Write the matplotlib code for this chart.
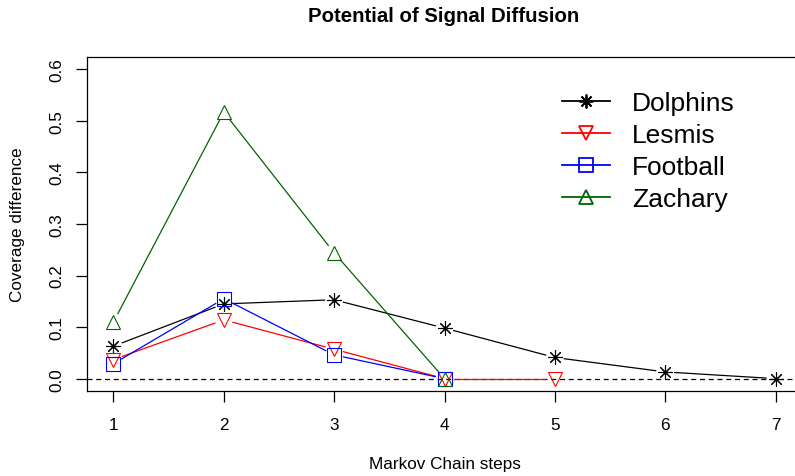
import numpy as np
import matplotlib
matplotlib.use("Agg")
import matplotlib.pyplot as plt

plt.rcParams['font.family'] = ['Liberation Sans', 'DejaVu Sans']

steps = [1, 2, 3, 4, 5, 6, 7]
dolphins = [0.063, 0.145, 0.153, 0.098, 0.041, 0.013, 0.0]
lesmis = [0.037, 0.114, 0.057, 0.0, 0.0]
football = [0.029, 0.155, 0.046, 0.0]
zachary = [0.110, 0.517, 0.244, 0.0]

series = [
    ("Dolphins", dolphins, "black", (8, 2, 0)),
    ("Lesmis", lesmis, "red", "v"),
    ("Football", football, "blue", "s"),
    ("Zachary", zachary, "#006400", "^"),
]

fig = plt.figure(figsize=(7.95, 4.77), dpi=100)
ax = fig.add_axes([87 / 795, 1 - 392 / 477, (802 - 87) / 795, (392 - 58) / 477])
ax.set_xlim(0.76, 7.24)
ax.set_ylim(-0.024, 0.624)

ax.axhline(0, color="black", lw=0.9, ls=(0, (4, 3)))

gap = 9.5  # px, like R type="b"
handles = []
for name, vals, col, mk in series:
    x = np.array(steps[:len(vals)], dtype=float)
    y = np.array(vals, dtype=float)
    pts = ax.transData.transform(np.column_stack([x, y]))
    for k in range(len(pts) - 1):
        p0, p1 = pts[k], pts[k + 1]
        d = p1 - p0
        L = np.hypot(*d)
        if L <= 2 * gap:
            continue
        u = d / L
        seg = ax.transData.inverted().transform([p0 + u * gap, p1 - u * gap])
        ax.plot(seg[:, 0], seg[:, 1], color=col, lw=0.9)
    ax.plot(x, y, ls="none", marker=mk, ms=10.5, mfc="none", mec=col, mew=0.8)
    h, = ax.plot([], [], color=col, lw=1.3, marker=mk, ms=10, mfc="none",
                 mec=col, mew=1.3, label=name)
    handles.append(h)

ax.set_xticks(steps)
ax.set_yticks([0.0, 0.1, 0.2, 0.3, 0.4, 0.5, 0.6])
ax.set_yticklabels(["0.0", "0.1", "0.2", "0.3", "0.4", "0.5", "0.6"],
                   rotation=90, va="center")
ax.tick_params(axis="both", length=8, width=0.9, labelsize=12.3)
ax.tick_params(axis="x", pad=11)
ax.tick_params(axis="y", pad=8)
for s in ax.spines.values():
    s.set_linewidth(0.9)

ax.set_xlabel("Markov Chain steps", fontsize=12.3, labelpad=17)
ax.set_ylabel("Coverage difference", fontsize=12.3, labelpad=18)
fig.text(444 / 795, 1 - 17 / 477, "Potential of Signal Diffusion",
         ha="center", va="center", fontsize=14.7, fontweight="bold")

ax.legend(handles=handles, loc="upper left", bbox_to_anchor=(562 / 795, 1 - 92 / 477),
          bbox_transform=fig.transFigure, frameon=False, fontsize=19,
          handlelength=1.8, handletextpad=0.85, labelspacing=0.3, borderaxespad=0,
          borderpad=0)

fig.savefig("out.png", dpi=100)
